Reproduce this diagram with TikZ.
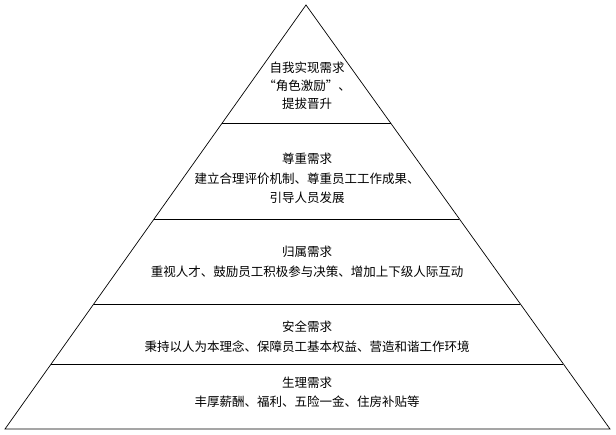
\documentclass[tikz,border=0pt]{standalone}
\usepackage{fontspec}
\setmainfont{Noto Sans CJK SC}
\usetikzlibrary{calc}
\tikzset{
  edge/.style={draw=black, line width=0.7pt},
  lvltext/.style={align=center, font=\fontsize{12.5pt}{19pt}\selectfont, inner sep=0pt, text=black}
}
\begin{document}
\begin{tikzpicture}[x=1pt,y=1pt]
\useasboundingbox (0,0) rectangle (616,435);
\coordinate (A) at (306,430);
\coordinate (BL) at (5,6);
\coordinate (BR) at (610,6);
\draw[edge] (A) -- (BL) -- (BR) -- cycle;
\foreach \t/\n in {0.2783/a,0.5047/b,0.7052/c,0.8467/d}{
  \coordinate (L\n) at ($(A)!\t!(BL)$);
  \coordinate (R\n) at ($(A)!\t!(BR)$);
  \draw[edge] (L\n) -- (R\n);
}
\node[lvltext, font=\fontsize{12.5pt}{18pt}\selectfont] (t1) at (307,349) {自我实现需求\\“角色激励”、\\提拔晋升};
\node[lvltext, font=\fontsize{12.5pt}{19.5pt}\selectfont] (t2) at (307,256.5) {尊重需求\\建立合理评价机制、尊重员工工作成果、\\引导人员发展};
\node[lvltext, font=\fontsize{12.5pt}{20pt}\selectfont] (t3) at (307,173) {归属需求\\重视人才、鼓励员工积极参与决策、增加上下级人际互动};
\node[lvltext, font=\fontsize{12.5pt}{20pt}\selectfont] (t4) at (307,98) {安全需求\\秉持以人为本理念、保障员工基本权益、营造和谐工作环境};
\node[lvltext, font=\fontsize{12.5pt}{19pt}\selectfont] (t5) at (307,43) {生理需求\\丰厚薪酬、福利、五险一金、住房补贴等};
\end{tikzpicture}
\end{document}
